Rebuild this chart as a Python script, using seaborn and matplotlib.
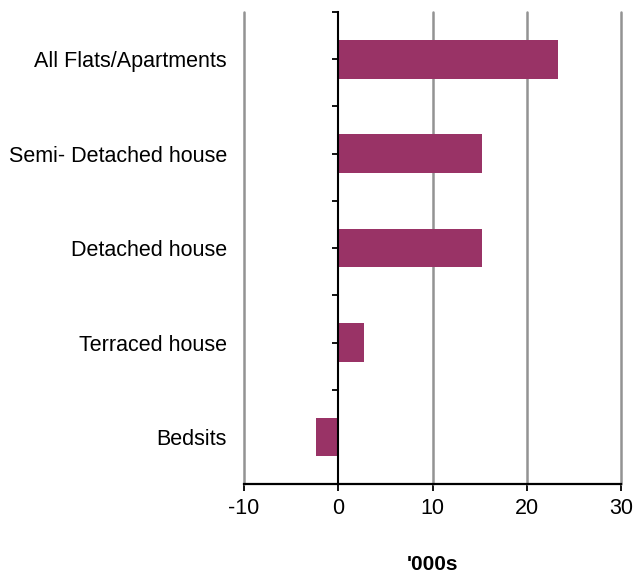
import matplotlib
matplotlib.use("Agg")
import matplotlib.pyplot as plt
import seaborn as sns
import pandas as pd
import numpy as np

categories = ["All Flats/Apartments", "Semi- Detached house", "Detached house", "Terraced house", "Bedsits"]
values = [23.3, 15.3, 15.3, 2.7, -2.4]
x_ticks = [-10, 0, 10, 20, 30]
x_label = "'000s"

sns.set_theme(style="white")
plt.rcParams['font.family'] = ['Liberation Sans', 'DejaVu Sans']
plt.rcParams['text.color'] = 'black'
plt.rcParams['xtick.color'] = 'black'
plt.rcParams['ytick.color'] = 'black'
plt.rcParams['axes.labelcolor'] = 'black'

df = pd.DataFrame({"category": categories, "value": values})

fig = plt.figure(figsize=(6.35, 5.75), dpi=100)
ax = fig.add_axes([0.3843, 0.158, 0.978 - 0.3843, 0.979 - 0.158])

sns.barplot(data=df, x="value", y="category", orient="h", color="#993366",
            saturation=1, width=0.41, ax=ax, zorder=3, linewidth=0, edgecolor="none")

ax.set_xlim(-10, 30)
ax.set_ylim(4.5, -0.5)
ax.set_xticks(x_ticks)
ax.set_xticklabels([str(t) for t in x_ticks], fontsize=15.5)
for t in x_ticks:
    if t != 0:
        ax.axvline(t, color="#939393", lw=1.8, zorder=1, clip_on=False)

for s in ["top", "right"]:
    ax.spines[s].set_visible(False)
ax.spines["bottom"].set_color("black")
ax.spines["bottom"].set_linewidth(1.6)
ax.spines["bottom"].set_zorder(5)
ax.spines["left"].set_position(("data", 0))
ax.spines["left"].set_color("black")
ax.spines["left"].set_linewidth(1.5)
ax.spines["left"].set_zorder(5)

ax.tick_params(axis="x", direction="out", length=5, width=1.3, pad=5, bottom=True)
ax.set_yticks(range(len(categories)))
ax.set_yticks(np.arange(-0.5, len(categories), 1.0), minor=True)
ax.tick_params(axis="y", which="both", direction="out", length=4, width=1.3, left=True)
ax.tick_params(axis="y", which="major", pad=(338 - 228) * 72 / 100 - 3)
ax.set_yticklabels(categories, fontsize=15.5)
ax.set_ylabel("")
ax.set_xlabel(x_label, fontsize=15, fontweight="bold", labelpad=26)

fig.savefig("out.png", dpi=100)
